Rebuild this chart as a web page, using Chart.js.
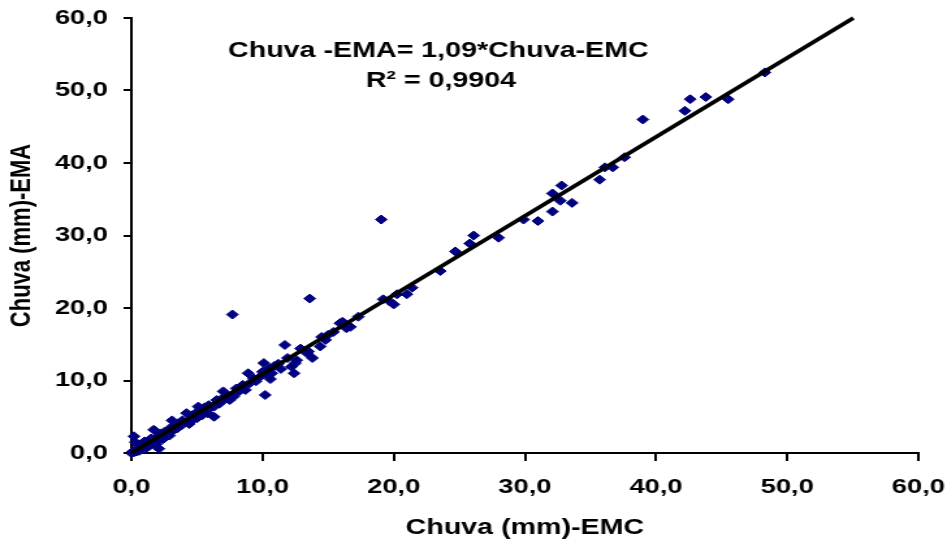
<!DOCTYPE html>
<html>
<head>
<meta charset="utf-8">
<script src="https://cdn.jsdelivr.net/npm/chart.js@4.4.1/dist/chart.umd.min.js"></script>
<style>
  html, body { margin: 0; padding: 0; background: #fff; overflow: hidden; }
  /* the original figure is stretched sideways, so draw narrow and widen it */
  .wrap { width: 728px; height: 544px; transform: scaleX(1.3008); transform-origin: 0 0; }
</style>
</head>
<body>
<div class="wrap"><canvas id="myChart" width="728" height="544"></canvas></div>
<script>
//-------------------- data -------------------
const chuvaEMC = [0.0, 0.1, 0.2, 0.2, 0.3, 0.3, 0.4, 0.5, 0.5, 0.6, 0.7, 0.8, 0.8, 0.9, 1.0, 1.0, 1.1, 1.2, 1.3, 1.4,
  1.5, 1.6, 1.7, 1.8, 1.9, 2.0, 2.1, 2.1, 2.2, 2.3, 2.4, 2.5, 2.6, 2.8, 2.9, 3.0, 3.1, 3.2, 3.3, 3.5,
  3.6, 3.8, 3.9, 4.0, 4.2, 4.3, 4.4, 4.6, 4.7, 4.9, 5.0, 5.1, 5.3, 5.4, 5.6, 5.8, 5.9, 6.1, 6.3, 6.3,
  6.5, 6.7, 6.9, 7.0, 7.1, 7.3, 7.5, 7.7, 7.8, 8.0, 8.2, 8.5, 8.7, 8.9, 9.0, 9.3, 9.5, 9.8, 10.0, 10.1,
  10.2, 10.3, 10.5, 10.6, 10.7, 10.9, 11.2, 11.4, 11.7, 11.9, 12.2, 12.4, 12.5, 12.6, 12.9, 13.4, 13.5, 13.6, 13.8, 14.4,
  14.5, 14.8, 15.0, 15.4, 15.9, 16.1, 16.4, 16.7, 17.3, 19.05, 19.2, 19.7, 20.0, 20.25, 21.0, 21.4, 23.55, 24.7, 25.8, 26.1,
  28.0, 29.9, 31.0, 32.1, 32.1, 32.7, 32.8, 33.6, 35.7, 36.1, 36.7, 37.6, 39.0, 42.2, 42.6, 43.8, 45.5, 48.3];
const chuvaEMA = [0.0, 0.2, 0.1, 2.3, 0.4, 1.5, 0.2, 0.6, 1.1, 0.3, 0.8, 0.5, 1.3, 1.0, 0.6, 1.6, 1.2, 0.8, 1.5, 1.0,
  2.0, 1.5, 3.2, 1.9, 1.2, 2.3, 0.6, 1.8, 2.7, 2.2, 1.9, 2.9, 2.5, 3.0, 2.4, 3.5, 4.5, 3.1, 3.8, 3.4,
  4.1, 3.8, 4.5, 4.1, 5.5, 4.4, 4.0, 5.2, 4.6, 5.5, 4.8, 6.4, 5.7, 5.2, 6.3, 5.5, 6.6, 6.3, 5.0, 6.4,
  7.3, 6.8, 7.5, 8.5, 7.4, 7.9, 7.3, 19.1, 7.8, 8.9, 8.5, 9.4, 8.7, 11.0, 9.6, 10.3, 9.9, 10.5, 11.2, 12.4,
  8.0, 10.9, 11.7, 10.2, 11.0, 12.0, 12.3, 11.6, 14.9, 13.1, 11.9, 11.0, 12.4, 12.8, 14.4, 13.75, 14.0, 21.3, 13.1, 14.7,
  16.0, 15.6, 16.3, 16.7, 17.9, 18.1, 17.2, 17.4, 18.8, 32.2, 21.2, 20.9, 20.5, 21.9, 21.9, 22.8, 25.1, 27.8, 28.9, 30.0,
  29.7, 32.2, 32.0, 33.3, 35.8, 34.8, 36.9, 34.5, 37.7, 39.4, 39.4, 40.8, 46.0, 47.2, 48.8, 49.1, 48.8, 52.5];

const axisTicks = [0, 10, 20, 30, 40, 50, 60];
const fitSlope = 1.09;
const fitR2 = '0,9904';
//-------------------- End data -------------------

const points = chuvaEMC.map((x, i) => ({x: x, y: chuvaEMA[i]}));
const axisMax = axisTicks[axisTicks.length - 1];
const trendLine = [{x: 0, y: 0}, {x: axisMax / fitSlope, y: axisMax}];

const fmt = v => v.toFixed(1).replace('.', ',');
const fontFamily = '"Liberation Sans", Arial, sans-serif';

// equation text in the upper left of the plot
const equationLabel = {
  id: 'equationLabel',
  afterDatasetsDraw(chart) {
    const ctx = chart.ctx;
    ctx.save();
    ctx.fillStyle = '#000';
    ctx.font = 'bold 22px ' + fontFamily;
    ctx.textAlign = 'center';
    ctx.textBaseline = 'alphabetic';
    ctx.fillText('Chuva -EMA= ' + String(fitSlope).replace('.', ',') + '*Chuva-EMC', 337, 57);
    ctx.fillText('R\u00B2 = ' + fitR2, 339, 87);
    ctx.restore();
  }
};

const tickFont = {family: fontFamily, size: 21, weight: 'bold'};
const titleFont = {family: fontFamily, size: 22, weight: 'bold'};

const chart = new Chart(document.getElementById('myChart'), {
  type: 'scatter',
  data: {
    datasets: [
      {
        type: 'line',
        data: trendLine,
        borderColor: '#000',
        borderWidth: 3.5,
        pointRadius: 0,
        fill: false,
        order: 0,
        clip: false
      },
      {
        data: points,
        pointStyle: 'rectRot',
        pointRadius: 4.5,
        backgroundColor: '#000080',
        borderColor: '#000080',
        borderWidth: 1,
        order: 1,
        clip: false
      }
    ]
  },
  options: {
    responsive: false,
    animation: false,
    devicePixelRatio: 1,
    layout: { padding: {top: 18, right: 22, bottom: 0, left: 0} },
    plugins: {
      legend: { display: false },
      tooltip: { enabled: false }
    },
    scales: {
      x: {
        type: 'linear',
        min: 0,
        max: axisMax,
        afterBuildTicks: s => { s.ticks = axisTicks.map(v => ({value: v})); },
        // fixed box so the plot area sits where the original one does
        afterFit: s => { s.height = 91; s.paddingLeft = 0; s.paddingRight = 0; },
        ticks: { color: '#000', font: tickFont, padding: 14, maxRotation: 0, callback: fmt },
        grid: { drawOnChartArea: false, drawTicks: true, tickLength: 8, color: '#000', lineWidth: 2 },
        border: { color: '#000', width: 2 },
        title: { display: true, text: 'Chuva (mm)-EMC', color: '#000', font: titleFont, padding: {top: 0, bottom: 3} }
      },
      y: {
        type: 'linear',
        min: 0,
        max: axisMax,
        afterBuildTicks: s => { s.ticks = axisTicks.map(v => ({value: v})); },
        afterFit: s => { s.width = 101; s.paddingTop = 0; s.paddingBottom = 0; },
        ticks: { color: '#000', font: tickFont, padding: 12, callback: fmt },
        grid: { drawOnChartArea: false, drawTicks: true, tickLength: 6, color: '#000', lineWidth: 2 },
        border: { color: '#000', width: 2 },
        title: { display: true, text: 'Chuva (mm)-EMA', color: '#000', font: titleFont, padding: {top: 4, bottom: 0} }
      }
    }
  },
  plugins: [equationLabel]
});
</script>
</body>
</html>
